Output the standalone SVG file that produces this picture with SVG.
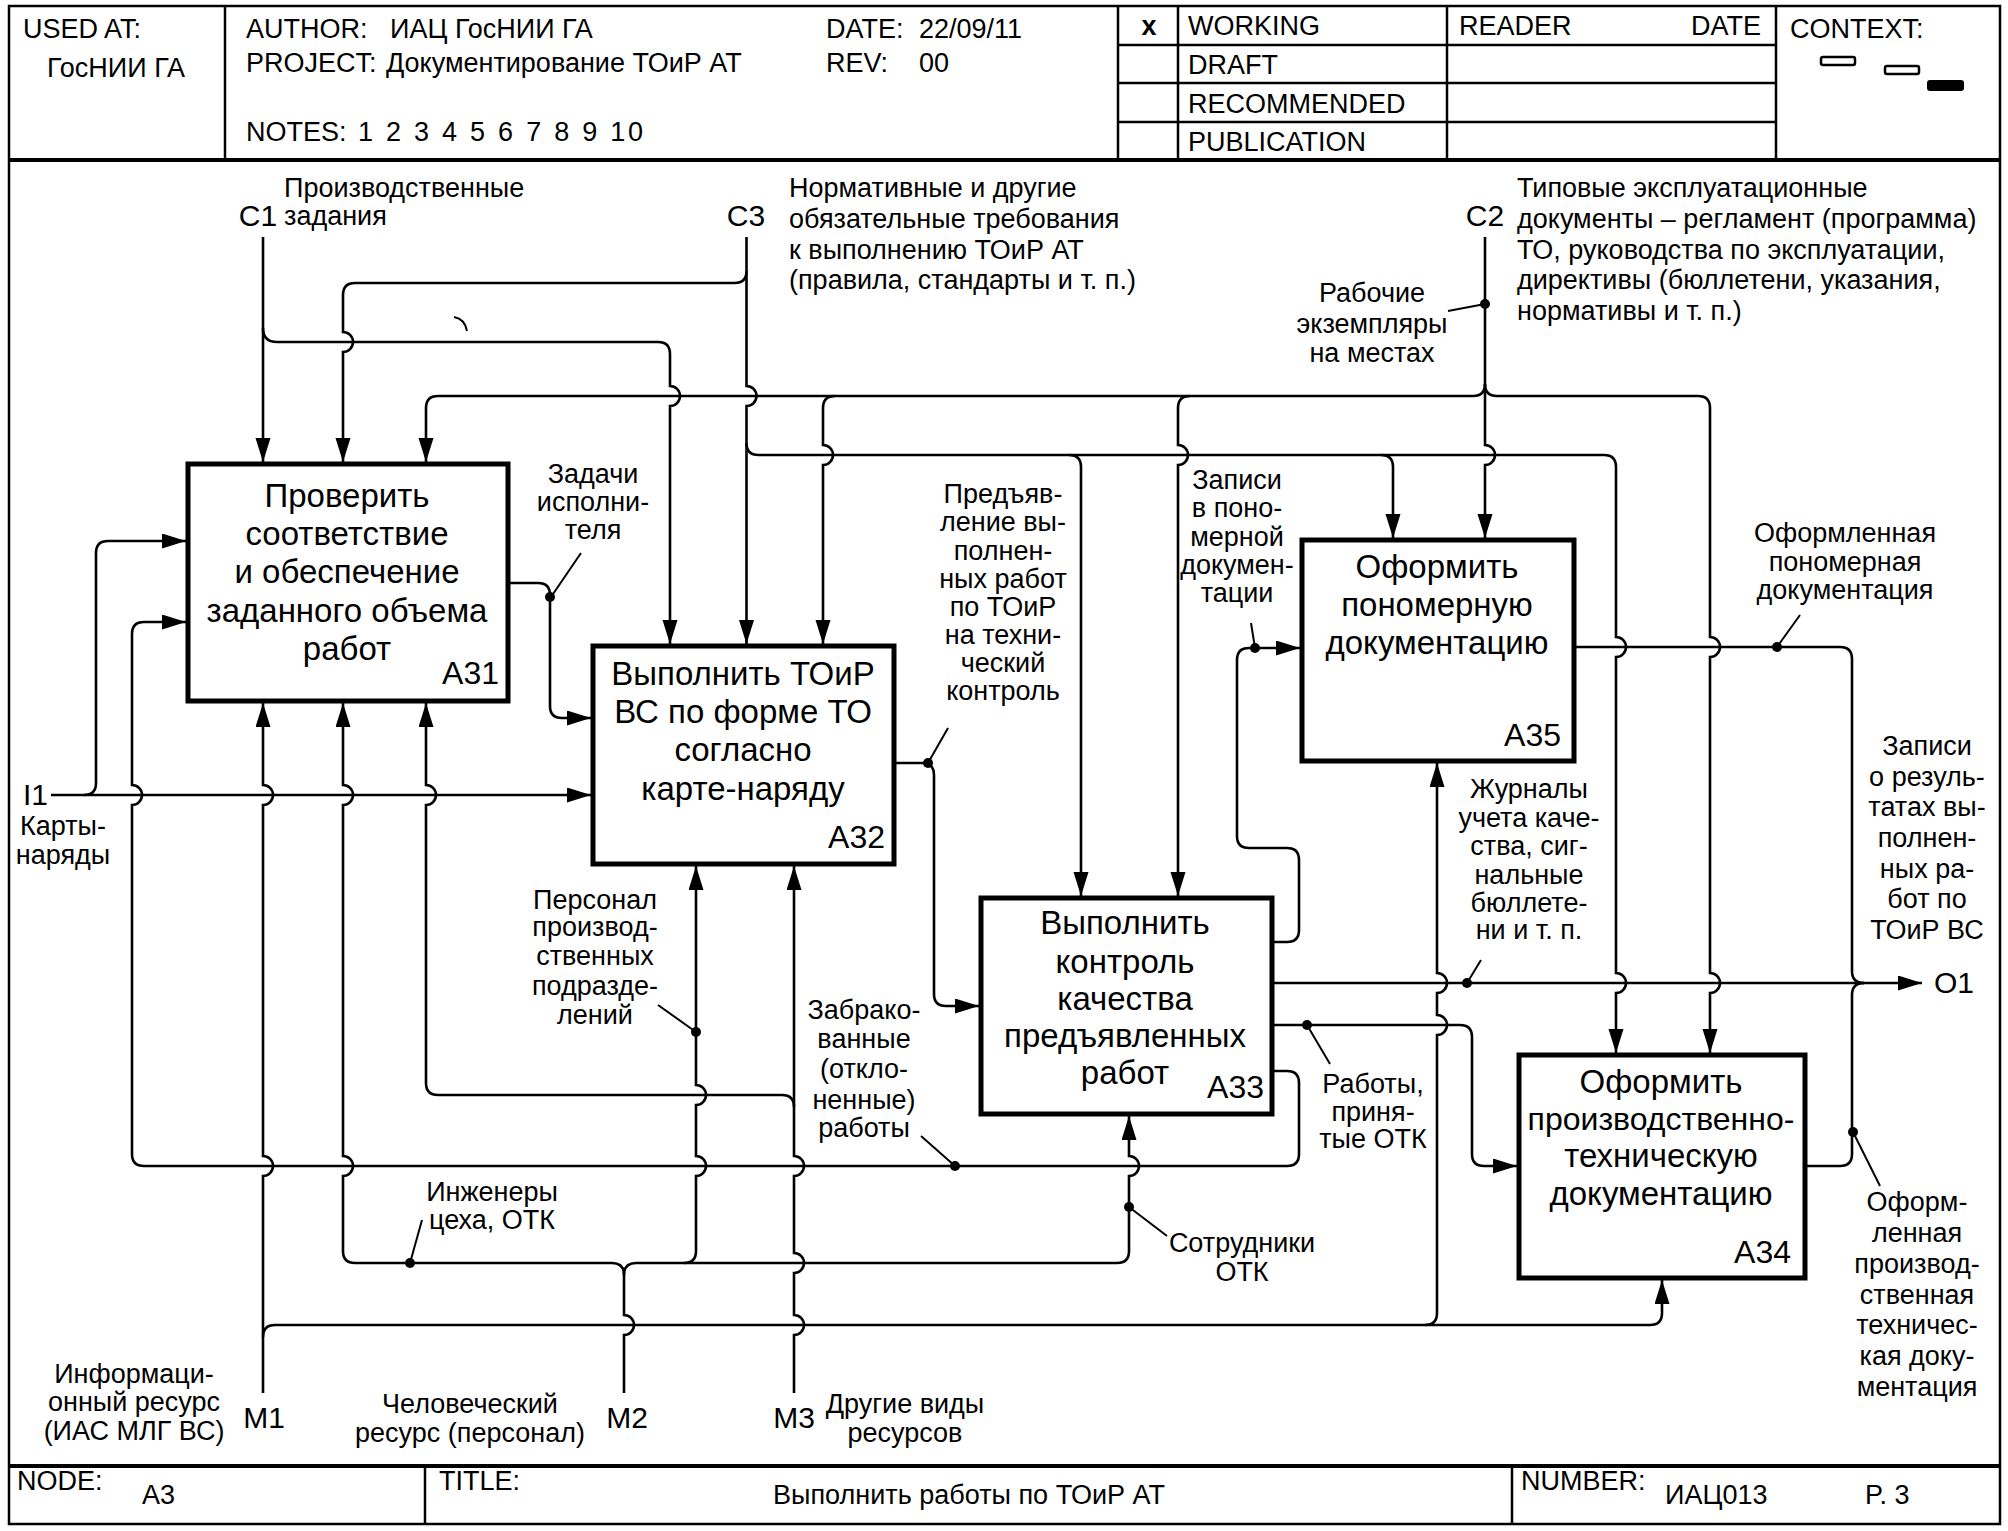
<svg xmlns="http://www.w3.org/2000/svg" width="2008" height="1531" viewBox="0 0 2008 1531">
<defs>
<marker id="arr" markerUnits="userSpaceOnUse" markerWidth="26" markerHeight="16" refX="24" refY="7.5" orient="auto">
<path d="M0,0 L24,7.5 L0,15 z" fill="#000"/>
</marker>
<style>
.ln{fill:none;stroke:#000;stroke-width:2.6}
.ar{marker-end:url(#arr)}
.ld{fill:none;stroke:#000;stroke-width:2}
.box{fill:#fff;stroke:#000;stroke-width:5}
.fr{fill:none;stroke:#000;stroke-width:2.5}
.thk{stroke:#000;stroke-width:4}
.t{font-family:"Liberation Sans",Arial,sans-serif;font-size:27px;fill:#000}
.c{text-anchor:middle}
.bt{font-family:"Liberation Sans",Arial,sans-serif;font-size:33px;fill:#000;text-anchor:middle}
.code{font-family:"Liberation Sans",Arial,sans-serif;font-size:32px;fill:#000;text-anchor:end}
.io{font-family:"Liberation Sans",Arial,sans-serif;font-size:30px;fill:#000}
.hd{font-family:"Liberation Sans",Arial,sans-serif;font-size:27px;fill:#000}
.dot{fill:#000}
</style>
</defs>
<rect width="2008" height="1531" fill="#fff"/>

<g id="frame">
<rect class="fr" x="9" y="6" width="1991" height="1518"/>
<line class="thk" x1="9" y1="160" x2="2000" y2="160"/>
<line class="thk" x1="9" y1="1466" x2="2000" y2="1466"/>
<line class="fr" x1="225" y1="6" x2="225" y2="160"/>
<line class="fr" x1="1118" y1="6" x2="1118" y2="160"/>
<line class="fr" x1="1178" y1="6" x2="1178" y2="160"/>
<line class="fr" x1="1447" y1="6" x2="1447" y2="160"/>
<line class="fr" x1="1776" y1="6" x2="1776" y2="160"/>
<line class="fr" x1="1118" y1="45" x2="1776" y2="45"/>
<line class="fr" x1="1118" y1="83" x2="1776" y2="83"/>
<line class="fr" x1="1118" y1="122" x2="1776" y2="122"/>
<line class="fr" x1="425" y1="1466" x2="425" y2="1524"/>
<line class="fr" x1="1512" y1="1466" x2="1512" y2="1524"/>
<rect x="1821" y="57" width="34" height="8" rx="2" fill="#fff" stroke="#000" stroke-width="2.5"/>
<rect x="1885" y="66" width="34" height="8" rx="2" fill="#fff" stroke="#000" stroke-width="2.5"/>
<rect x="1928" y="81" width="35" height="9" rx="2" fill="#000" stroke="#000" stroke-width="2"/>
<text class="hd" x="23" y="38">USED AT:</text>
<text class="hd" x="47" y="77">ГосНИИ ГА</text>
<text class="hd" x="246" y="38">AUTHOR:</text>
<text class="hd" x="390" y="38">ИАЦ ГосНИИ ГА</text>
<text class="hd" x="246" y="72">PROJECT:</text>
<text class="hd" x="386" y="72">Документирование ТОиР АТ</text>
<text class="hd" x="246" y="141">NOTES:</text>
<text class="hd" x="358" y="141" textLength="285" lengthAdjust="spacing">1 2 3 4 5 6 7 8 9 10</text>
<text class="hd" x="826" y="38">DATE:</text>
<text class="hd" x="919" y="38">22/09/11</text>
<text class="hd" x="826" y="72">REV:</text>
<text class="hd" x="919" y="72">00</text>
<text class="hd" x="1149" y="35" text-anchor="middle" font-weight="bold" font-size="24">x</text>
<text class="hd" x="1188" y="35">WORKING</text>
<text class="hd" x="1188" y="74">DRAFT</text>
<text class="hd" x="1188" y="113">RECOMMENDED</text>
<text class="hd" x="1188" y="151">PUBLICATION</text>
<text class="hd" x="1459" y="35">READER</text>
<text class="hd" x="1761" y="35" text-anchor="end">DATE</text>
<text class="hd" x="1790" y="38">CONTEXT:</text>
<text class="hd" x="17" y="1490">NODE:</text>
<text class="hd" x="142" y="1504">A3</text>
<text class="hd" x="439" y="1490">TITLE:</text>
<text class="hd" x="773" y="1504" textLength="392" lengthAdjust="spacingAndGlyphs">Выполнить работы по ТОиР АТ</text>
<text class="hd" x="1521" y="1490">NUMBER:</text>
<text class="hd" x="1665" y="1504">ИАЦ013</text>
<text class="hd" x="1865" y="1504">P. 3</text>
</g>

<g id="connectors">
<path class="ln ar" d="M263,237 V462"/>
<path class="ln ar" d="M263,328 Q263,342 277,342 H658 Q670,342 670,354 V386 a10,10 0 0 1 0,20 V644"/>
<path class="ln ar" d="M746.5,237 V386 a10,10 0 0 1 0,20 V644"/>
<path class="ln ar" d="M746.5,271 Q746.5,283 734.5,283 H355 Q343,283 343,295 V332 a10,10 0 0 1 0,20 V462"/>
<path class="ln ar" d="M746.5,443 Q746.5,455 758.5,455 H1604 Q1616,455 1616,467 V637 a10,10 0 0 1 0,20 V973 a10,10 0 0 1 0,20 V1053"/>
<path class="ln ar" d="M1069,455 Q1081,455 1081,467 V896"/>
<path class="ln ar" d="M1381,455 Q1393,455 1393,467 V538"/>
<path class="ln ar" d="M1485,237 V445 a10,10 0 0 1 0,20 V538"/>
<path class="ln ar" d="M1485,384 Q1485,396 1473,396 H438 Q426,396 426,408 V462"/>
<path class="ln ar" d="M1485,384 Q1485,396 1497,396 H1698 Q1710,396 1710,408 V637 a10,10 0 0 1 0,20 V973 a10,10 0 0 1 0,20 V1053"/>
<path class="ln ar" d="M835,396 Q823,396 823,408 V445 a10,10 0 0 1 0,20 V644"/>
<path class="ln ar" d="M1190,396 Q1178,396 1178,408 V445 a10,10 0 0 1 0,20 V896"/>
<path class="ln ar" d="M508,583 H538 Q550,583 550,595 V706 Q550,718 562,718 H591"/>
<path class="ln ar" d="M51,795 H591"/>
<path class="ln ar" d="M84,795 Q96,795 96,783 V553 Q96,541 108,541 H186"/>
<path class="ln ar" d="M1272,1071 H1287 Q1299,1071 1299,1083 V1154 Q1299,1166 1287,1166 H144 Q132,1166 132,1154 V805 a10,10 0 0 0 0,-20 V634 Q132,622 144,622 H186"/>
<path class="ln ar" d="M263,1393 V1176 a10,10 0 0 0 0,-20 V805 a10,10 0 0 0 0,-20 V703"/>
<path class="ln ar" d="M263,1337 Q263,1325 275,1325 H1650 Q1662,1325 1662,1313 V1280"/>
<path class="ln ar" d="M1425,1325 Q1437,1325 1437,1313 V1035 a10,10 0 0 0 0,-20 V993 a10,10 0 0 0 0,-20 V763"/>
<path class="ln" d="M624,1393 V1335 a10,10 0 0 0 0,-20 V1275"/>
<path class="ln ar" d="M624,1275 Q624,1263 612,1263 H355 Q343,1263 343,1251 V1176 a10,10 0 0 0 0,-20 V805 a10,10 0 0 0 0,-20 V703"/>
<path class="ln ar" d="M624,1275 Q624,1263 636,1263 H1117 Q1129,1263 1129,1251 V1176 a10,10 0 0 0 0,-20 V1116"/>
<path class="ln ar" d="M684,1263 Q696,1263 696,1251 V1176 a10,10 0 0 0 0,-20 V1105 a10,10 0 0 0 0,-20 V866"/>
<path class="ln ar" d="M794,1393 V1335 a10,10 0 0 0 0,-20 V1273 a10,10 0 0 0 0,-20 V1176 a10,10 0 0 0 0,-20 V866"/>
<path class="ln ar" d="M794,1107 Q794,1095 782,1095 H438 Q426,1095 426,1083 V805 a10,10 0 0 0 0,-20 V703"/>
<path class="ln ar" d="M894,763 H922 Q934,763 934,775 V994 Q934,1006 946,1006 H979"/>
<path class="ln ar" d="M1272,942 H1287 Q1299,942 1299,930 V860 Q1299,848 1287,848 H1249 Q1237,848 1237,836 V660 Q1237,648 1249,648 H1300"/>
<path class="ln" d="M1574,647 H1840 Q1852,647 1852,659 V971 Q1852,983 1864,983"/>
<path class="ln ar" d="M1272,983 H1922"/>
<path class="ln" d="M1805,1166 H1840 Q1852,1166 1852,1154 V995 Q1852,983 1864,983"/>
<path class="ln ar" d="M1272,1025 H1460 Q1472,1025 1472,1037 V1154 Q1472,1166 1484,1166 H1517"/>
<path class="ld" d="M454,317 Q465,319 467,331"/>
<circle class="dot" cx="1485" cy="304" r="5"/>
<circle class="dot" cx="550" cy="597" r="5"/>
<circle class="dot" cx="928" cy="763" r="5"/>
<circle class="dot" cx="1255" cy="648" r="5"/>
<circle class="dot" cx="1777" cy="647" r="5"/>
<circle class="dot" cx="1467" cy="983" r="5"/>
<circle class="dot" cx="1307" cy="1025" r="5"/>
<circle class="dot" cx="1853" cy="1132" r="5"/>
<circle class="dot" cx="955" cy="1166" r="5"/>
<circle class="dot" cx="696" cy="1032" r="5"/>
<circle class="dot" cx="1129" cy="1207" r="5"/>
<circle class="dot" cx="410" cy="1263" r="5"/>
<path class="ld" d="M581,553 L551,597"/>
<path class="ld" d="M1448,311 L1485,304"/>
<path class="ld" d="M948,728 L928,763"/>
<path class="ld" d="M1251,623 L1255,648"/>
<path class="ld" d="M1800,615 L1777,647"/>
<path class="ld" d="M1481,960 L1467,983"/>
<path class="ld" d="M1330,1064 L1307,1025"/>
<path class="ld" d="M1880,1186 L1853,1132"/>
<path class="ld" d="M1167,1236 L1129,1207"/>
<path class="ld" d="M921,1136 L955,1166"/>
<path class="ld" d="M658,1005 L696,1032"/>
<path class="ld" d="M422,1220 L410,1263"/>
</g>

<g id="labels">
<text class="io" x="258" y="226" text-anchor="middle">C1</text>
<text class="t" x="284" y="197">Производственные</text>
<text class="t" x="284" y="225">задания</text>
<text class="io" x="746" y="226" text-anchor="middle">C3</text>
<text class="t"><tspan x="789" y="197">Нормативные и другие</tspan><tspan x="789" y="228">обязательные требования</tspan><tspan x="789" y="259">к выполнению ТОиР АТ</tspan><tspan x="789" y="289">(правила, стандарты и т. п.)</tspan></text>
<text class="io" x="1485" y="226" text-anchor="middle">C2</text>
<text class="t"><tspan x="1517" y="197">Типовые эксплуатационные</tspan><tspan x="1517" y="228">документы – регламент (программа)</tspan><tspan x="1517" y="259">ТО, руководства по эксплуатации,</tspan><tspan x="1517" y="289">директивы (бюллетени, указания,</tspan><tspan x="1517" y="320">нормативы и т. п.)</tspan></text>
<text class="t c"><tspan x="1372" y="302">Рабочие</tspan><tspan x="1372" y="333">экземпляры</tspan><tspan x="1372" y="362">на местах</tspan></text>
<text class="t c"><tspan x="593" y="483">Задачи</tspan><tspan x="593" y="511">исполни-</tspan><tspan x="593" y="539">теля</tspan></text>
<text class="t c"><tspan x="1003" y="503">Предъяв-</tspan><tspan x="1003" y="531">ление вы-</tspan><tspan x="1003" y="560">полнен-</tspan><tspan x="1003" y="588">ных работ</tspan><tspan x="1003" y="616">по ТОиР</tspan><tspan x="1003" y="644">на техни-</tspan><tspan x="1003" y="672">ческий</tspan><tspan x="1003" y="700">контроль</tspan></text>
<text class="t c"><tspan x="1237" y="489">Записи</tspan><tspan x="1237" y="517">в поно-</tspan><tspan x="1237" y="546">мерной</tspan><tspan x="1237" y="574">докумен-</tspan><tspan x="1237" y="602">тации</tspan></text>
<text class="t c"><tspan x="1845" y="542">Оформленная</tspan><tspan x="1845" y="571">пономерная</tspan><tspan x="1845" y="599">документация</tspan></text>
<text class="t c"><tspan x="1927" y="755">Записи</tspan><tspan x="1927" y="786">о резуль-</tspan><tspan x="1927" y="816">татах вы-</tspan><tspan x="1927" y="847">полнен-</tspan><tspan x="1927" y="878">ных ра-</tspan><tspan x="1927" y="908">бот по</tspan><tspan x="1927" y="939">ТОиР ВС</tspan></text>
<text class="t c"><tspan x="1529" y="798">Журналы</tspan><tspan x="1529" y="827">учета каче-</tspan><tspan x="1529" y="855">ства, сиг-</tspan><tspan x="1529" y="884">нальные</tspan><tspan x="1529" y="912">бюллете-</tspan><tspan x="1529" y="939">ни и т. п.</tspan></text>
<text class="t c"><tspan x="595" y="909">Персонал</tspan><tspan x="595" y="936">производ-</tspan><tspan x="595" y="965">ственных</tspan><tspan x="595" y="995">подразде-</tspan><tspan x="595" y="1024">лений</tspan></text>
<text class="t c"><tspan x="864" y="1019">Забрако-</tspan><tspan x="864" y="1048">ванные</tspan><tspan x="864" y="1078">(откло-</tspan><tspan x="864" y="1109">ненные)</tspan><tspan x="864" y="1137">работы</tspan></text>
<text class="t c"><tspan x="1373" y="1093">Работы,</tspan><tspan x="1373" y="1121">приня-</tspan><tspan x="1373" y="1148">тые ОТК</tspan></text>
<text class="t c"><tspan x="492" y="1201">Инженеры</tspan><tspan x="492" y="1229">цеха, ОТК</tspan></text>
<text class="t c"><tspan x="1242" y="1252">Сотрудники</tspan><tspan x="1242" y="1281">ОТК</tspan></text>
<text class="t c"><tspan x="1917" y="1211">Оформ-</tspan><tspan x="1917" y="1242">ленная</tspan><tspan x="1917" y="1273">производ-</tspan><tspan x="1917" y="1304">ственная</tspan><tspan x="1917" y="1334">техничес-</tspan><tspan x="1917" y="1365">кая доку-</tspan><tspan x="1917" y="1396">ментация</tspan></text>
<text class="io" x="23" y="805">I1</text>
<text class="t c"><tspan x="63" y="835">Карты-</tspan><tspan x="63" y="864">наряды</tspan></text>
<text class="io" x="1934" y="993" font-size="31">O1</text>
<text class="t c"><tspan x="134" y="1383">Информаци-</tspan><tspan x="134" y="1411">онный ресурс</tspan><tspan x="134" y="1440">(ИАС МЛГ ВС)</tspan></text>
<text class="io" x="264" y="1428" text-anchor="middle">M1</text>
<text class="t c"><tspan x="470" y="1413">Человеческий</tspan><tspan x="470" y="1442">ресурс (персонал)</tspan></text>
<text class="io" x="627" y="1428" text-anchor="middle">M2</text>
<text class="io" x="794" y="1428" text-anchor="middle">M3</text>
<text class="t c"><tspan x="905" y="1413">Другие виды</tspan><tspan x="905" y="1442">ресурсов</tspan></text>
</g>

<g id="A31">
<rect class="box" x="188" y="464" width="320" height="237"/>
<text class="bt"><tspan x="347" y="507">Проверить</tspan><tspan x="347" y="545">соответствие</tspan><tspan x="347" y="583">и обеспечение</tspan><tspan x="347" y="622">заданного объема</tspan><tspan x="347" y="660">работ</tspan></text>
<text class="code" x="499" y="684">A31</text>
</g>
<g id="A32">
<rect class="box" x="593" y="646" width="301" height="218"/>
<text class="bt"><tspan x="743" y="685">Выполнить ТОиР</tspan><tspan x="743" y="723">ВС по форме ТО</tspan><tspan x="743" y="761">согласно</tspan><tspan x="743" y="800">карте-наряду</tspan></text>
<text class="code" x="885" y="848">A32</text>
</g>
<g id="A33">
<rect class="box" x="981" y="898" width="291" height="216"/>
<text class="bt"><tspan x="1125" y="934">Выполнить</tspan><tspan x="1125" y="973">контроль</tspan><tspan x="1125" y="1010">качества</tspan><tspan x="1125" y="1047">предъявленных</tspan><tspan x="1125" y="1084">работ</tspan></text>
<text class="code" x="1264" y="1098">A33</text>
</g>
<g id="A35">
<rect class="box" x="1302" y="540" width="272" height="221"/>
<text class="bt"><tspan x="1437" y="578">Оформить</tspan><tspan x="1437" y="616">пономерную</tspan><tspan x="1437" y="654">документацию</tspan></text>
<text class="code" x="1561" y="746">A35</text>
</g>
<g id="A34">
<rect class="box" x="1519" y="1055" width="286" height="223"/>
<text class="bt"><tspan x="1661" y="1093">Оформить</tspan><tspan x="1661" y="1130" font-size="32">производственно-</tspan><tspan x="1661" y="1167">техническую</tspan><tspan x="1661" y="1205">документацию</tspan></text>
<text class="code" x="1791" y="1263">A34</text>
</g>
</svg>
